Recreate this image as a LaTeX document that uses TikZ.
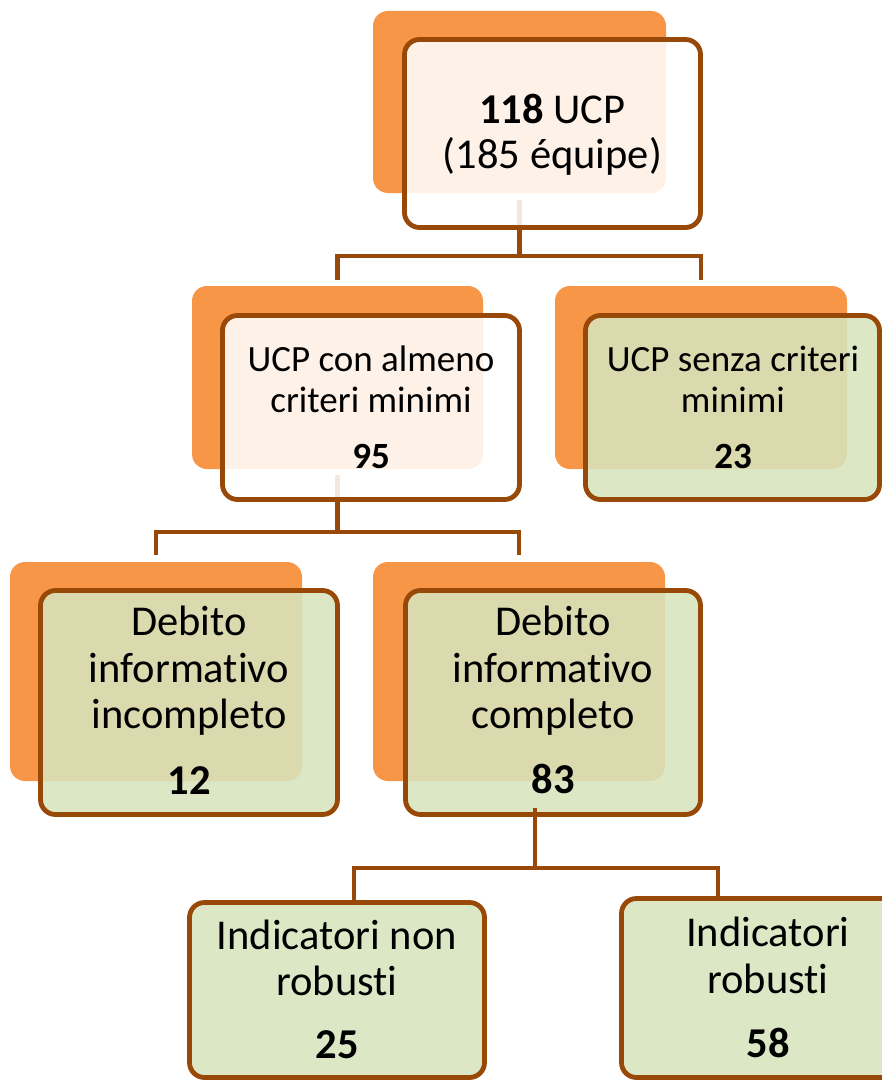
\documentclass[tikz,border=0pt]{standalone}
\usepackage{fontspec}
\setmainfont{Carlito}[Ligatures={NoCommon,NoContextual}]
\definecolor{brownline}{HTML}{984807}
\definecolor{orangeback}{HTML}{F79646}
\definecolor{greenfill}{HTML}{D7E4BD}
\tikzset{
  backcard/.style={fill=orangeback, rounded corners=15pt, inner sep=0pt, outer sep=0pt, draw=none},
  card/.style={draw=brownline, line width=4.8pt, rounded corners=15pt, fill opacity=0.88, inner sep=0pt, outer sep=0pt},
  whitecard/.style={card, fill=white},
  greencard/.style={card, fill=greenfill},
  conn/.style={draw=brownline, line width=4.8pt},
  big/.style={font=\fontsize{42.5}{47}\selectfont, inner sep=0pt, anchor=base},
  mid/.style={font=\fontsize{37}{40}\selectfont, inner sep=0pt, anchor=base},
}
\begin{document}
\begin{tikzpicture}[x=1pt, y=-1pt]
  \useasboundingbox (0,0) rectangle (881,1081);

  % orange back cards
  \node[backcard, minimum width=293pt, minimum height=182pt] (o1) at (519.5,102) {};
  \node[backcard, minimum width=291pt, minimum height=183pt] (o2) at (337.5,377.5) {};
  \node[backcard, minimum width=292pt, minimum height=183pt] (o3) at (701,377.5) {};
  \node[backcard, minimum width=292pt, minimum height=219pt] (o4) at (156,671.5) {};
  \node[backcard, minimum width=292pt, minimum height=219pt] (o5) at (519,671.5) {};

  % connectors running behind the front cards
  \coordinate (j1) at (519.5,256);
  \coordinate (j2) at (337.5,532);
  \draw[conn] ([yshift=-7pt]o1.south) -- (j1);
  \draw[conn] ([yshift=6pt]o2.north) |- (j1) -| ([yshift=6pt]o3.north);
  \draw[conn] ([yshift=-6pt]o2.south) -- (j2);
  \draw[conn] ([yshift=7pt]o4.north) |- (j2) -| ([yshift=7pt]o5.north);

  % front cards
  \node[whitecard, minimum width=296pt, minimum height=188pt] (f1) at (552.5,133.5) {};
  \node[whitecard, minimum width=297pt, minimum height=184pt] (f2) at (371,407.5) {};
  \node[greencard, minimum width=294pt, minimum height=184pt] (f3) at (732.5,407.5) {};
  \node[greencard, minimum width=297pt, minimum height=224pt] (f4) at (189,702.5) {};
  \node[greencard, minimum width=295pt, minimum height=224pt] (f5) at (553,702.5) {};
  \node[greencard, minimum width=295pt, minimum height=175pt] (f6) at (337,990) {};
  \node[greencard, minimum width=293pt, minimum height=179pt] (f7) at (768,988) {};

  % connectors to the last row
  \coordinate (j3) at (535,868);
  \coordinate (k6) at (354,868);
  \coordinate (k7) at (718,868);
  \coordinate (s3) at (j3 |- f5.south);
  \draw[conn] ([yshift=6.5pt]s3) -- (j3);
  \draw[conn] (k6 |- f6.north) -- (k6) -- (k7) -- (k7 |- f7.north);

  % labels
  \node[big] (t1a) at (552.5,123) {\textbf{118} UCP};
  \node[big] (t1b) at (552.5,168) {(185 équipe)};

  \node[mid] (t2a) at (371,371) {UCP con almeno};
  \node[mid] (t2b) at (371,412) {criteri minimi};
  \node[mid] (t2c) at (371,468) {\textbf{95}};

  \node[mid] (t3a) at (733,371) {UCP senza criteri};
  \node[mid] (t3b) at (733,412) {minimi};
  \node[mid] (t3c) at (733,468) {\textbf{23}};

  \node[big] (t4a) at (189,635) {Debito};
  \node[big] (t4b) at (189,682) {informativo};
  \node[big] (t4c) at (189,728) {incompleto};
  \node[big] (t4d) at (189,794) {\textbf{12}};

  \node[big] (t5a) at (553,635) {Debito};
  \node[big] (t5b) at (553,682) {informativo};
  \node[big] (t5c) at (553,728) {completo};
  \node[big] (t5d) at (553,793) {\textbf{83}};

  \node[big] (t6a) at (337,949) {Indicatori non};
  \node[big] (t6b) at (337,995) {robusti};
  \node[big] (t6c) at (337,1058) {\textbf{25}};

  \node[big] (t7a) at (768,946) {Indicatori};
  \node[big] (t7b) at (768,993) {robusti};
  \node[big] (t7c) at (768,1057) {\textbf{58}};
\end{tikzpicture}
\end{document}
